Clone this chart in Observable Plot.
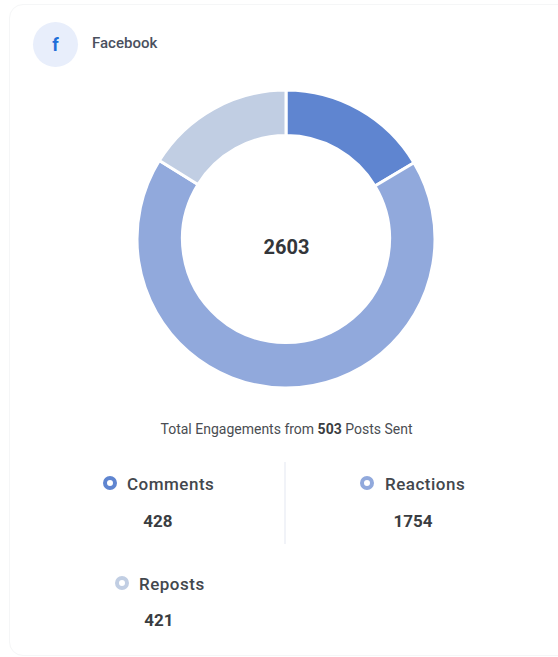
<!DOCTYPE html>
<html>
<head>
<meta charset="utf-8">
<script src="https://cdn.jsdelivr.net/npm/d3@7"></script>
<script src="https://cdn.jsdelivr.net/npm/@observablehq/plot@0.6"></script>
<style>
html,body{margin:0;padding:0;background:#fff;width:558px;height:657px;overflow:hidden;font-family:Roboto,sans-serif}
#page{position:relative;width:558px;height:657px;overflow:hidden}
#card{position:absolute;left:9px;top:4px;width:600px;height:652px;border:1px solid #f5f6f7;border-radius:14px;box-sizing:border-box}
#badge{position:absolute;left:33px;top:22px;width:45px;height:45px;border-radius:50%;background:#e8eefb;color:#1f6fd8;font:700 18px/45px Roboto,sans-serif;text-align:center}
#name{position:absolute;left:92px;top:35px;font:500 15px/17px Roboto,sans-serif;color:#4a505e}
#chart{position:absolute;left:0;top:0}
#chart svg{background:transparent;display:block}
#caption{position:absolute;left:0;width:573px;top:421px;text-align:center;font:400 14px/17px Roboto,sans-serif;color:#4a4d52}
#caption b{font-weight:700;color:#3a3d41}
#divider{position:absolute;left:284px;top:462px;width:2px;height:82px;background:#f1f3f8}
.ring{position:absolute;width:14px;height:14px;box-sizing:border-box;border-radius:50%;border-style:solid;border-width:4px;background:#fff}
.lab{position:absolute;font:500 17px/20px Roboto,sans-serif;color:#43474d;letter-spacing:.5px;white-space:nowrap}
.val{position:absolute;width:80px;text-align:center;font:700 17px/20px Roboto,sans-serif;color:#3a3d41}
.i0.ring{left:103px;top:476px}.i0.lab{left:127px;top:474px}.i0.val{left:118px;top:511px}
.i1.ring{left:360px;top:476px}.i1.lab{left:385px;top:474px}.i1.val{left:373px;top:511px}
.i2.ring{left:115px;top:576px}.i2.lab{left:139px;top:574px}.i2.val{left:119px;top:610px}
</style>
</head>
<body>
<div id="page">
  <div id="card"></div>
  <div id="chart"></div>
  <div id="badge">f</div>
  <div id="name"></div>
  <div id="caption"></div>
  <div id="divider"></div>
</div>
<script>
const platform = "Facebook";
const categories = ["Comments", "Reactions", "Reposts"];
const values = [428, 1754, 421];
const colors = ["#5f85d0", "#91a9dc", "#c1cee3"];
const total = 2603;
const posts = 503;

const slices = d3.pie().sort(null).value(d => d.value)(
  categories.map((name, i) => ({name, value: values[i]}))
);
const innerShare = 0.695;

const chart = Plot.plot({
  width: 558, height: 400,
  marginLeft: 137, marginRight: 123, marginTop: 90, marginBottom: 12,
  x: {domain: [-1, 1], axis: null},
  y: {domain: [1, -1], axis: null},
  color: {domain: categories, range: colors},
  marks: [
    Plot.dot(slices, {
      x: () => 0, y: () => 0, fill: d => d.data.name,
      render(index, scales, channels, dimensions, context) {
        const rx = scales.x(1) - scales.x(0);
        const arc = d3.arc().innerRadius(rx * innerShare).outerRadius(rx);
        const g = d3.create("svg:g");
        for (const i of index) {
          g.append("path")
            .attr("transform", `translate(${channels.x[i]},${channels.y[i]})`)
            .attr("d", arc(slices[i]))
            .attr("fill", channels.fill[i])
            .attr("stroke", "#fff")
            .attr("stroke-width", 3);
        }
        return g.node();
      }
    }),
    Plot.text([total], {
      x: () => 0, y: () => 0, text: d => String(d),
      fontSize: 20, fontWeight: 700, fill: "#33363a",
      fontFamily: "Roboto, sans-serif", dy: 8
    })
  ]
});
document.getElementById("chart").append(chart);

document.getElementById("name").textContent = platform;
document.getElementById("caption").innerHTML = `Total Engagements from <b>${posts}</b> Posts Sent`;

const page = document.getElementById("page");
categories.forEach((name, i) => {
  const ring = document.createElement("div");
  ring.className = `ring i${i}`;
  ring.style.borderColor = colors[i];
  const lab = document.createElement("div");
  lab.className = `lab i${i}`;
  lab.textContent = name;
  const val = document.createElement("div");
  val.className = `val i${i}`;
  val.textContent = values[i];
  page.append(ring, lab, val);
});
</script>
</body>
</html>
